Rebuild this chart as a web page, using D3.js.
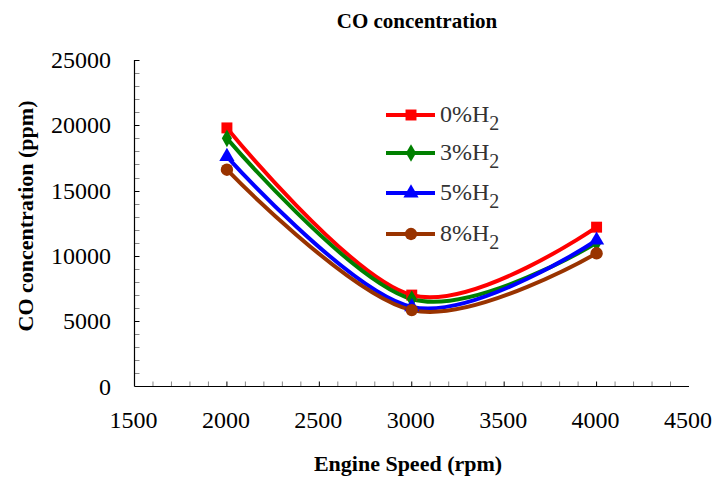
<!DOCTYPE html>
<html>
<head>
<meta charset="utf-8">
<script src="https://cdn.jsdelivr.net/npm/d3@7"></script>
<style>
  html, body { margin: 0; padding: 0; background: #fff; }
  svg text { font-family: "Liberation Serif", "Times New Roman", serif; }
</style>
</head>
<body>
<svg id="chart" width="716" height="479"></svg>
<script>
// Engine speed (rpm)
const speeds = [2000, 3000, 4000];
// CO concentration (ppm) for each hydrogen blend
const co0 = [19800, 7000, 12200];
const co3 = [19000, 6700, 11000];
const co5 = [17600, 6100, 11200];
const co8 = [16600, 5850, 10200];

const seriesNames = ["0%", "3%", "5%", "8%"];
const seriesColors = ["#ff0000", "#008000", "#0000ff", "#993300"];
const seriesMarkers = ["square", "diamond", "triangle", "circle"];
const seriesValues = [co0, co3, co5, co8];

const xTicks = [1500, 2000, 2500, 3000, 3500, 4000, 4500];
const yTicks = [0, 5000, 10000, 15000, 20000, 25000];

const svg = d3.select("#chart");
const x = d3.scaleLinear().domain([1500, 4500]).range([134.5, 689]);
const y = d3.scaleLinear().domain([0, 25000]).range([386.5, 60]);

// Title
svg.append("text").attr("x", 417).attr("y", 28).attr("text-anchor", "middle")
  .attr("font-size", 21).attr("font-weight", "bold").text("CO concentration");

// Minor and major ticks, drawn inside the plot
const gx = svg.append("g");
d3.range(1600, 4500, 100).forEach(v => {
  const major = v % 500 === 0;
  gx.append("line").attr("x1", x(v)).attr("x2", x(v))
    .attr("y1", y(0)).attr("y2", y(0) - 5)
    .attr("stroke", major ? "#000" : "#888").attr("stroke-width", 1);
});
const gy = svg.append("g");
d3.range(1000, 25001, 1000).forEach(v => {
  const major = v % 5000 === 0;
  gy.append("line").attr("x1", x(1500)).attr("x2", x(1500) + 5)
    .attr("y1", Math.round(y(v)) + 0.5).attr("y2", Math.round(y(v)) + 0.5)
    .attr("stroke", major ? "#000" : "#888").attr("stroke-width", 1);
});

// Axis lines
svg.append("line").attr("x1", x(1500)).attr("x2", x(4500))
  .attr("y1", y(0)).attr("y2", y(0)).attr("stroke", "#000").attr("stroke-width", 1.2);
svg.append("line").attr("x1", x(1500)).attr("x2", x(1500))
  .attr("y1", y(0)).attr("y2", y(25000)).attr("stroke", "#000").attr("stroke-width", 1.2);

// Tick labels
xTicks.forEach(v => {
  svg.append("text").attr("x", x(v) - 1).attr("y", 428).attr("text-anchor", "middle")
    .attr("font-size", 24).text(v);
});
yTicks.forEach(v => {
  svg.append("text").attr("x", 111).attr("y", y(v) + 8).attr("text-anchor", "end")
    .attr("font-size", 24).text(v);
});

// Axis titles
svg.append("text").attr("x", 408).attr("y", 471).attr("text-anchor", "middle")
  .attr("font-size", 22).attr("font-weight", "bold").text("Engine Speed (rpm)");
svg.append("text").attr("transform", "translate(33,216) rotate(-90)")
  .attr("text-anchor", "middle").attr("font-size", 22).attr("font-weight", "bold")
  .text("CO concentration (ppm)");

const symbolFor = {
  square: d3.symbolSquare, diamond: d3.symbolDiamond,
  triangle: d3.symbolTriangle, circle: d3.symbolCircle
};
const sizeFor = { square: 120, diamond: 90, triangle: 100, circle: 120 };

const line = d3.line().x(d => x(d[0])).y(d => y(d[1])).curve(d3.curveCardinal.tension(0));

seriesValues.forEach((vals, i) => {
  const pts = speeds.map((s, j) => [s, vals[j]]);
  svg.append("path").attr("d", line(pts)).attr("fill", "none")
    .attr("stroke", seriesColors[i]).attr("stroke-width", 4);
});
seriesValues.forEach((vals, i) => {
  speeds.forEach((s, j) => {
    svg.append("path")
      .attr("d", d3.symbol().type(symbolFor[seriesMarkers[i]]).size(sizeFor[seriesMarkers[i]])())
      .attr("transform", `translate(${x(s)},${y(vals[j])})`)
      .attr("fill", seriesColors[i]);
  });
});

// Legend
const legendY = [115, 153, 193, 234];
seriesNames.forEach((name, i) => {
  const g = svg.append("g").attr("transform", `translate(386,${legendY[i]})`);
  g.append("line").attr("x1", 0).attr("x2", 49).attr("y1", 0).attr("y2", 0)
    .attr("stroke", seriesColors[i]).attr("stroke-width", 4);
  g.append("path")
    .attr("d", d3.symbol().type(symbolFor[seriesMarkers[i]]).size(sizeFor[seriesMarkers[i]])())
    .attr("transform", "translate(25,0)").attr("fill", seriesColors[i]);
  const t = g.append("text").attr("x", 54).attr("y", 7).attr("font-size", 24)
    .attr("fill", "#333");
  t.append("tspan").text(name + "H");
  t.append("tspan").attr("dy", 8).attr("font-size", 20).text("2");
});
</script>
</body>
</html>
